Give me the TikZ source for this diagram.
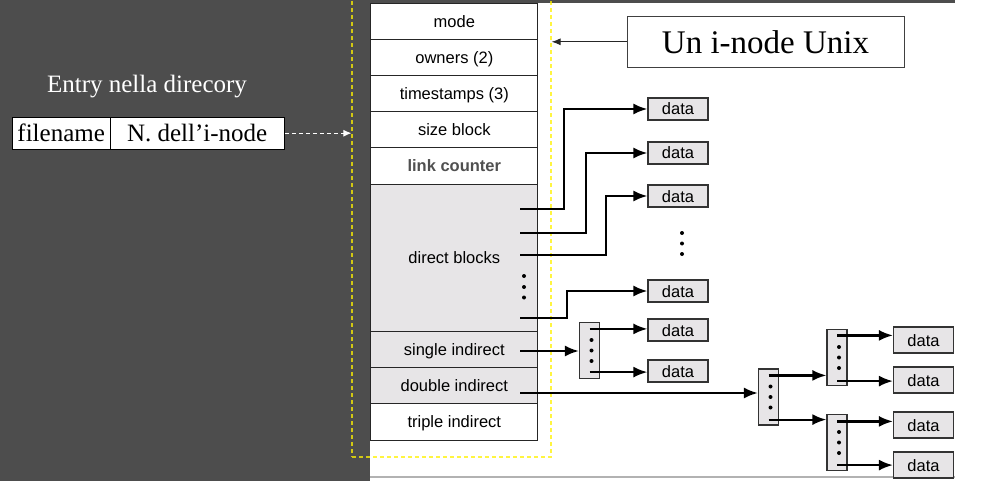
\documentclass[tikz,border=0pt]{standalone}
\usepackage{fontspec}
\setmainfont{Liberation Serif}
\setsansfont{Liberation Sans}
\usetikzlibrary{%
  matrix,%
  calc,%
  arrows.meta%
}
\definecolor{slide}{RGB}{77,77,77}
\definecolor{blk}{RGB}{231,229,231}
\definecolor{cnt}{RGB}{80,80,80}

\begin{document}
\begin{tikzpicture}[x=1pt,y=-1pt,
  field/.style={draw=black!85,line width=1.2pt,minimum width=167,minimum height=36,inner sep=0pt,
    text height=12,text depth=0,font=\sffamily\fontsize{16.5}{18}\selectfont},
  datablk/.style={draw=black!80,line width=1.2pt,fill=blk,minimum width=60,minimum height=22,inner sep=0pt,
    text height=12,text depth=0,font=\sffamily\fontsize{16.5}{18}\selectfont},
  ptrblk/.style={draw=black!80,line width=1.2pt,fill=blk,minimum width=20,minimum height=56,inner sep=0pt},
  ptr/.style={line width=2.2pt,-{Latex[length=14pt,width=11pt]}}]
\useasboundingbox (0,0) rectangle (984,481);
\fill[slide] (0,0) rectangle (370,481);
\fill[slide] (370,0) rectangle (955,3);
\draw[gray!60,line width=1.5pt] (370,477) -- (955,477);

% selezione gialla
\node[draw=yellow,draw opacity=.75,dashed,dash pattern=on 4pt off 3pt,line width=1.2pt,
  minimum width=199,minimum height=477,inner sep=0pt] (sel) at (451.5,218.5) {};

\node[text=white,font=\fontsize{25}{28}\selectfont,anchor=base] (entrylbl) at (147,93) {Entry nella direcory};
\matrix[matrix of nodes,column sep=-1.2pt,anchor=north west,inner sep=0pt,
  nodes={draw=black,line width=1.2pt,fill=white,minimum height=32,inner sep=0pt,
    text height=17,text depth=0,font=\fontsize{25}{28}\selectfont}] (entry) at (11.4,116.4)
{
|[name=fname,minimum width=98]| filename &|[name=inum,minimum width=174]| N. dell'i-node \\
};

\matrix[matrix of nodes,row sep=-1.2pt,anchor=north west,inner sep=0pt,nodes={field}] (inode) at (370,2.4)
{
|[name=mode]| mode \\
|[name=owners]| owners (2) \\
|[name=times]| timestamps (3) \\
|[name=size]| size block \\
|[name=links,minimum height=37,text=cnt,font=\sffamily\bfseries\fontsize{16.5}{18}\selectfont]| link counter \\
|[name=direct,minimum height=147,fill=blk]| direct blocks \\
|[name=single,fill=blk]| single indirect \\
|[name=double,fill=blk]| double indirect \\
|[name=triple,minimum height=37]| triple indirect \\
};

\node[draw=black!75,line width=1pt,minimum width=277,minimum height=51,inner sep=0pt,
  text height=22.5,text depth=0,font=\fontsize{33}{36}\selectfont] (title) at (765.5,41.8) {Un i-node Unix};

\draw[white,line width=1pt,dashed,dash pattern=on 4pt off 3pt,-{Latex[length=8pt,width=7pt]}]
  (inum.east) -- (inum.east -| sel.west);
\draw[black!85,line width=1pt,-{Latex[length=9pt,width=7pt]}] (title.west) -- (title.west -| sel.east);

\node[datablk] (data1) at (678,109) {data};
\node[datablk] (data2) at (678,153) {data};
\node[datablk] (data3) at (678,196) {data};
\node[datablk] (data4) at (678,291) {data};
\node[datablk] (data5) at (678,330) {data};
\node[datablk] (data6) at (678,371) {data};
\node[datablk,minimum height=26] (data7) at (923.5,340) {data};
\node[datablk,minimum height=26] (data8) at (923.5,380) {data};
\node[datablk,minimum height=26] (data9) at (923.5,425) {data};
\node[datablk,minimum height=26] (data10) at (923.5,465) {data};

\node[ptrblk] (ind1) at (589.5,350.5) {};
\node[ptrblk] (ind2) at (768.5,397) {};
\node[ptrblk] (ind3) at (837,357.5) {};
\node[ptrblk] (ind4) at (837,442.5) {};

\coordinate (p1) at (520,209);
\coordinate (p2) at (520,233);
\coordinate (p3) at (520,255);
\coordinate (p4) at (520,318);
\coordinate (p5) at (520,351);
\coordinate (p6) at (520,393);
\coordinate (q1) at ($(ind1.north)+(0,7)$);
\coordinate (q2) at ($(ind1.south)+(0,-7)$);
\coordinate (q3) at ($(ind2.north)+(0,7)$);
\coordinate (q4) at ($(ind2.south)+(0,-6)$);
\coordinate (q5) at ($(ind3.north)+(0,6.5)$);
\coordinate (q6) at ($(ind3.south)+(0,-5)$);
\coordinate (q7) at ($(ind4.north)+(0,7.5)$);
\coordinate (q8) at ($(ind4.south)+(0,-6)$);

\draw[ptr] (p1) -- ++(44,0) |- (data1);
\draw[ptr] (p2) -- ++(66,0) |- (data2);
\draw[ptr] (p3) -- ++(86,0) |- (data3);
\draw[ptr] (p4) -- ++(47,0) |- (data4);
\draw[ptr] (p5) -- (p5 -| ind1.west);
\draw[ptr] (p6) -- (p6 -| ind2.west);
\draw[ptr] (q1) -- (q1 -| data5.west);
\draw[ptr] (q2) -- (q2 -| data6.west);
\draw[ptr] (q3) -- (q3 -| ind3.west);
\draw[ptr] (q4) -- (q4 -| ind4.west);
\draw[ptr] (q5) -- (q5 -| data7.west);
\draw[ptr] (q6) -- (q6 -| data8.west);
\draw[ptr] (q7) -- (q7 -| data9.west);
\draw[ptr] (q8) -- (q8 -| data10.west);

% puntini
\foreach \b in {ind1,ind2,ind3,ind4}
  \foreach \k in {-10.5,0,10.5}
    \fill ($(\b.center)+(2,\k)$) circle[radius=2pt];
\foreach \y in {276,287,297.5}
  \fill (524,\y) circle[radius=2pt];
\foreach \y in {233,243.5,254}
  \fill (682,\y) circle[radius=2pt];
\end{tikzpicture}
\end{document}
